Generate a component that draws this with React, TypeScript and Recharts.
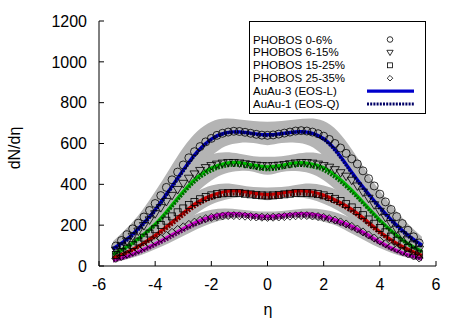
import { ComposedChart, Area, Line, Scatter, XAxis, YAxis } from "recharts"

const font = "'Liberation Sans', Arial, sans-serif"

// model grid (eta) and hydro curves
const etaModel = [-5.5, -5, -4.5, -4, -3.5, -3, -2.5, -2, -1.5, -1, -0.5, 0, 0.5, 1, 1.5, 2, 2.5, 3, 3.5, 4, 4.5, 5, 5.5]

const eosL0 = [85, 132, 198, 276, 372, 470, 560, 622, 652, 657, 649, 643, 649, 657, 654, 624, 555, 460, 370, 288, 214, 152, 102]
const eosQ0 = [80, 126, 192, 270, 366, 465, 556, 619, 650, 655, 646, 639, 646, 655, 651, 620, 550, 454, 364, 282, 208, 146, 96]
const bandLo0 = [57, 95, 145, 212, 290, 377, 466, 538, 586, 603, 602, 592, 602, 604, 589, 538, 457, 373, 294, 224, 161, 110, 74]
const bandHi0 = [121, 187, 266, 365, 473, 579, 660, 707, 722, 718, 710, 707, 710, 717, 722, 710, 660, 572, 468, 368, 283, 207, 143]

const eosL1 = [58, 95, 145, 205, 282, 365, 435, 480, 503, 506, 494, 486, 493, 505, 502, 482, 435, 372, 298, 225, 162, 110, 72]
const eosQ1 = [55, 91, 140, 199, 274, 355, 423, 466, 489, 493, 481, 472, 480, 492, 488, 468, 423, 362, 291, 220, 158, 106, 69]
const bandLo1 = [39, 66, 106, 156, 216, 290, 363, 419, 453, 465, 462, 447, 461, 465, 454, 420, 365, 302, 235, 173, 120, 80, 51]
const bandHi1 = [88, 136, 198, 275, 365, 451, 512, 546, 557, 550, 538, 535, 538, 549, 556, 546, 513, 454, 377, 295, 219, 154, 105]

const eosL2 = [40, 68, 105, 150, 203, 260, 312, 345, 365, 367, 357, 350, 357, 367, 365, 348, 318, 278, 225, 168, 120, 82, 52]
const eosQ2 = [37, 64, 99, 142, 193, 248, 298, 331, 349, 352, 342, 335, 342, 352, 350, 334, 305, 266, 215, 160, 114, 77, 48]
const bandLo2 = [26, 47, 77, 113, 158, 210, 260, 301, 325, 337, 334, 322, 334, 337, 328, 305, 272, 227, 175, 127, 89, 60, 35]
const bandHi2 = [62, 97, 143, 200, 261, 321, 366, 394, 404, 397, 387, 385, 387, 397, 404, 394, 371, 332, 283, 222, 163, 113, 77]

const eosL3 = [28, 48, 76, 108, 145, 183, 217, 242, 255, 256, 248, 243, 248, 256, 255, 244, 222, 195, 158, 118, 82, 55, 36]
const eosQ3 = [25, 44, 70, 101, 136, 173, 206, 231, 244, 246, 238, 233, 238, 246, 245, 234, 212, 186, 150, 111, 77, 51, 33]
const bandLo3 = [17, 33, 54, 82, 113, 147, 181, 210, 229, 236, 233, 224, 233, 236, 231, 217, 195, 159, 123, 88, 60, 40, 24]
const bandHi3 = [42, 70, 103, 143, 185, 224, 256, 276, 282, 277, 270, 267, 270, 277, 282, 276, 260, 233, 199, 156, 113, 77, 52]

// PHOBOS data
const etaData = [
  -5.4, -5.2, -5.0, -4.8, -4.6, -4.4, -4.2, -4.0, -3.8, -3.6, -3.4, -3.2, -3.0, -2.8,
  -2.6, -2.4, -2.2, -2.0, -1.8, -1.6, -1.4, -1.2, -1.0, -0.8, -0.6, -0.4, -0.2, 0,
  0.2, 0.4, 0.6, 0.8, 1.0, 1.2, 1.4, 1.6, 1.8, 2.0, 2.2, 2.4, 2.6, 2.8,
  3.0, 3.2, 3.4, 3.6, 3.8, 4.0, 4.2, 4.4, 4.6, 4.8, 5.0, 5.2, 5.4,
]
const phobos0 = [
  98, 125, 153, 182, 210, 240, 272, 306, 345, 385, 422, 460, 495, 530,
  560, 585, 608, 625, 640, 650, 656, 660, 659, 655, 650, 645, 641, 640,
  642, 646, 651, 656, 661, 663, 661, 656, 648, 636, 620, 600, 578, 552,
  525, 500, 466, 428, 392, 352, 314, 277, 242, 208, 175, 143, 113,
]
const phobos1 = [
  78, 99, 122, 146, 171, 198, 226, 256, 286, 316, 346, 375, 405, 430,
  451, 468, 482, 492, 499, 504, 507, 507, 505, 501, 497, 494, 492, 491,
  492, 494, 497, 501, 505, 507, 507, 504, 499, 492, 484, 472, 457, 440,
  420, 392, 362, 332, 300, 268, 238, 208, 180, 153, 128, 104, 82,
]
const phobos2 = [
  54, 69, 85, 102, 120, 139, 159, 180, 201, 222, 243, 263, 282, 299,
  314, 327, 338, 346, 352, 356, 358, 358, 357, 354, 351, 348, 346, 345,
  346, 348, 351, 354, 357, 358, 358, 356, 352, 346, 338, 329, 318, 303,
  287, 269, 249, 228, 207, 186, 165, 144, 124, 106, 89, 72, 57,
]
const phobos3 = [
  37, 47, 58, 69, 81, 94, 108, 122, 136, 150, 165, 179, 192, 204,
  215, 224, 232, 238, 242, 245, 247, 247, 246, 244, 242, 240, 239, 238,
  239, 240, 242, 244, 246, 247, 247, 245, 242, 238, 232, 225, 216, 206,
  194, 181, 167, 152, 137, 123, 109, 96, 83, 71, 60, 49, 39,
]

const xTicks = [-6, -4, -2, 0, 2, 4, 6]
const yTicks = [0, 200, 400, 600, 800, 1000, 1200]

const lColors = ["#0000cc", "#00bb00", "#cc0000", "#cc00cc"]
const qColors = ["#000066", "#006600", "#770000", "#660066"]

const legendLabels = ["PHOBOS 0-6%", "PHOBOS 6-15%", "PHOBOS 15-25%", "PHOBOS 25-35%", "AuAu-3 (EOS-L)", "AuAu-1 (EOS-Q)"]

const modelRows = etaModel.map((x, i) => ({
  x,
  l0: eosL0[i], q0: eosQ0[i], b0: [bandLo0[i], bandHi0[i]],
  l1: eosL1[i], q1: eosQ1[i], b1: [bandLo1[i], bandHi1[i]],
  l2: eosL2[i], q2: eosQ2[i], b2: [bandLo2[i], bandHi2[i]],
  l3: eosL3[i], q3: eosQ3[i], b3: [bandLo3[i], bandHi3[i]],
}))

const pts = (ys: number[]) => etaData.map((x, i) => ({ x, y: ys[i] }))

// open point symbols; s scales them down for the key
const CircleMark = (p: any) => {
  const s = p.s ?? 1
  return <circle cx={p.cx} cy={p.cy} r={4 * s} fill="none" stroke="#000" strokeWidth={0.8} />
}
const TriMark = (p: any) => {
  const s = p.s ?? 1
  return (
    <path d={`M${p.cx - 4.5 * s},${p.cy - 3 * s} L${p.cx + 4.5 * s},${p.cy - 3 * s} L${p.cx},${p.cy + 4.5 * s} Z`}
      fill="none" stroke="#000" strokeWidth={0.8} />
  )
}
const SquareMark = (p: any) => {
  const s = p.s ?? 1
  return <rect x={p.cx - 3.5 * s} y={p.cy - 3.5 * s} width={7 * s} height={7 * s} fill="none" stroke="#000" strokeWidth={0.8} />
}
const DiamondMark = (p: any) => {
  const s = p.s ?? 1
  return (
    <path d={`M${p.cx},${p.cy - 4 * s} L${p.cx + 4 * s},${p.cy} L${p.cx},${p.cy + 4 * s} L${p.cx - 4 * s},${p.cy} Z`}
      fill="none" stroke="#000" strokeWidth={0.8} />
  )
}

const series = [
  { data: pts(phobos0), shape: CircleMark },
  { data: pts(phobos1), shape: TriMark },
  { data: pts(phobos2), shape: SquareMark },
  { data: pts(phobos3), shape: DiamondMark },
]

const tickStyle = { fill: "#000", fontSize: 16, fontFamily: font }

export default function App() {
  return (
    <div style={{ position: "absolute", left: 0, top: 0, width: 463, height: 324, background: "#fff", fontFamily: font }}>
      <ComposedChart width={463} height={324} data={modelRows} margin={{ top: 21, right: 27, bottom: 0, left: 0 }}>
        <XAxis xAxisId="b" dataKey="x" type="number" domain={[-6, 6]} ticks={xTicks} allowDataOverflow
          height={58} tickSize={-5} tickMargin={18} stroke="#000" tick={tickStyle} />
        <XAxis xAxisId="t" orientation="top" dataKey="x" type="number" domain={[-6, 6]} ticks={xTicks} allowDataOverflow
          height={0} tickSize={-5} tick={false} stroke="#000" />
        <YAxis yAxisId="l" type="number" domain={[0, 1200]} ticks={yTicks} allowDataOverflow
          width={99} tickSize={-5} tickMargin={17} stroke="#000" tick={tickStyle} />
        <YAxis yAxisId="r" orientation="right" type="number" domain={[0, 1200]} ticks={yTicks} allowDataOverflow
          width={0} tickSize={-5} tick={false} stroke="#000" />

        {["b0", "b1", "b2", "b3"].map((k) => (
          <Area key={k} xAxisId="b" yAxisId="l" dataKey={k} type="natural" fill="#b4b4b4" fillOpacity={1}
            stroke="none" isAnimationActive={false} />
        ))}

        {series.map((s, i) => (
          <Scatter key={i} xAxisId="b" yAxisId="l" data={s.data} dataKey="y" shape={s.shape} isAnimationActive={false} />
        ))}

        {["l0", "l1", "l2", "l3"].map((k, i) => (
          <Line key={k} xAxisId="b" yAxisId="l" dataKey={k} type="natural" stroke={lColors[i]} strokeWidth={3.2}
            dot={false} isAnimationActive={false} />
        ))}
        {["q0", "q1", "q2", "q3"].map((k, i) => (
          <Line key={k} xAxisId="b" yAxisId="l" dataKey={k} type="natural" stroke={qColors[i]} strokeWidth={3.2}
            strokeDasharray="2 1.2" dot={false} isAnimationActive={false} />
        ))}
      </ComposedChart>

      <svg width={463} height={324} style={{ position: "absolute", left: 0, top: 0, pointerEvents: "none" }}>
        <text x={14} y={148} transform="rotate(-90 14 148)" textAnchor="middle" dominantBaseline="central"
          fontSize={16} fontFamily={font} fill="#000">dN/dη</text>
        <text x={268} y={315} textAnchor="middle" fontSize={16} fontFamily={font} fill="#000">η</text>

        <rect x={249.5} y={21.5} width={176} height={92} fill="#fff" stroke="#000" strokeWidth={1} />
        {legendLabels.map((t, i) => {
          const cy = 39.5 + i * 12.9
          return (
            <g key={t}>
              <text x={253} y={cy + 4} fontSize={11.5} fontFamily={font} fill="#000">{t}</text>
              {i < 4 && series[i].shape({ cx: 390, cy, s: 0.7 })}
              {i >= 4 && (
                <line x1={367} x2={414} y1={cy} y2={cy} stroke={i === 4 ? lColors[0] : qColors[0]} strokeWidth={3.2}
                  strokeDasharray={i === 5 ? "2 1.2" : undefined} />
              )}
            </g>
          )
        })}
      </svg>
    </div>
  )
}
